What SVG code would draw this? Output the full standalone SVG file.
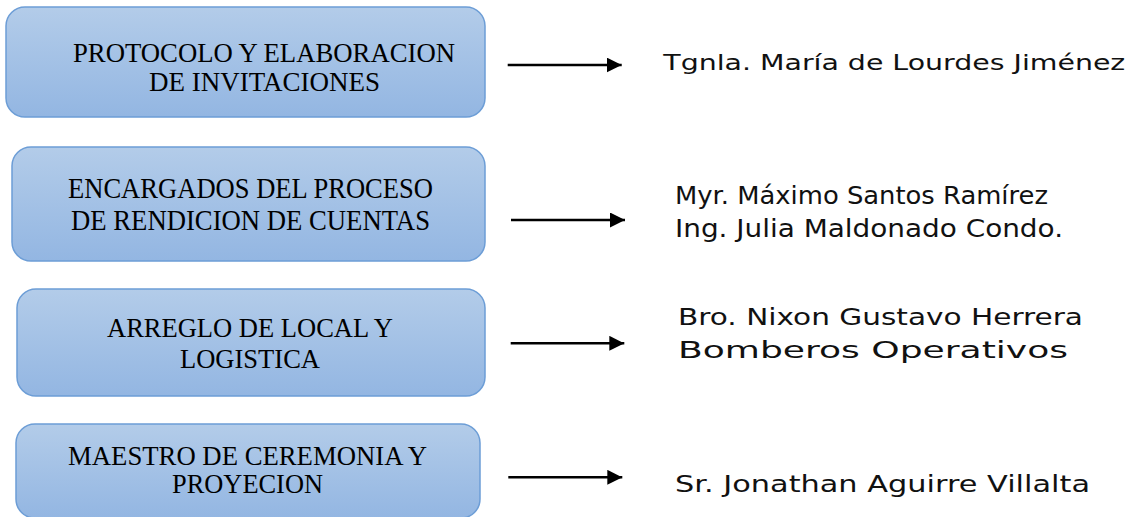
<svg xmlns="http://www.w3.org/2000/svg" width="1132" height="517" viewBox="0 0 1132 517">
<defs>
<linearGradient id="g" x1="0" y1="0" x2="0" y2="1">
<stop offset="0" stop-color="#b3cce9"/>
<stop offset="1" stop-color="#93b6e2"/>
</linearGradient>
<marker id="ah" markerUnits="userSpaceOnUse" markerWidth="15" markerHeight="15" refX="15" refY="7.5" orient="auto">
<path d="M0,0 L15,7.5 L0,15 Z" fill="#000"/>
</marker>
<style>
.box{fill:url(#g);stroke:#6c9dd6;stroke-width:1.5}
.lt{font-family:"Liberation Serif","Times New Roman",serif;fill:#000}
.rt{font-family:"DejaVu Sans","Liberation Sans",sans-serif;fill:#111}
.arr{stroke:#000;stroke-width:2.5;fill:none;marker-end:url(#ah)}
</style>
</defs>
<rect width="1132" height="517" fill="#fff"/>
<g id="n1">
<rect class="box" x="6" y="7" width="479" height="110" rx="19"/>
<text class="lt" font-size="28" x="73" y="61.7" textLength="382" lengthAdjust="spacingAndGlyphs">PROTOCOLO Y ELABORACION</text>
<text class="lt" font-size="28" x="149" y="90.7" textLength="231" lengthAdjust="spacingAndGlyphs">DE INVITACIONES</text>
</g>
<g id="n2">
<rect class="box" x="12" y="147" width="473" height="114" rx="19"/>
<text class="lt" font-size="28.7" x="68" y="198.3" textLength="365" lengthAdjust="spacingAndGlyphs">ENCARGADOS DEL PROCESO</text>
<text class="lt" font-size="28.7" x="71" y="230" textLength="359" lengthAdjust="spacingAndGlyphs">DE RENDICION DE CUENTAS</text>
</g>
<g id="n3">
<rect class="box" x="17" y="289" width="468" height="107" rx="19"/>
<text class="lt" font-size="27.7" x="107" y="336.7" textLength="286" lengthAdjust="spacingAndGlyphs">ARREGLO DE LOCAL Y</text>
<text class="lt" font-size="27.7" x="180" y="368.3" textLength="140" lengthAdjust="spacingAndGlyphs">LOGISTICA</text>
</g>
<g id="n4">
<rect class="box" x="16" y="424" width="464" height="94" rx="19"/>
<text class="lt" font-size="27" x="68" y="465" textLength="359" lengthAdjust="spacingAndGlyphs">MAESTRO DE CEREMONIA Y</text>
<text class="lt" font-size="27" x="172" y="493.3" textLength="151" lengthAdjust="spacingAndGlyphs">PROYECION</text>
</g>
<g id="connectors">
<line class="arr" x1="507.7" y1="65" x2="621.7" y2="65"/>
<line class="arr" x1="511" y1="220" x2="625" y2="220"/>
<line class="arr" x1="510.7" y1="343.3" x2="624.3" y2="343.3"/>
<line class="arr" x1="508.3" y1="477.3" x2="622.3" y2="477.3"/>
</g>
<g id="r1">
<text class="rt" font-size="20.6" x="663.3" y="70" textLength="462" lengthAdjust="spacingAndGlyphs">Tgnla. María de Lourdes Jiménez</text>
</g>
<g id="r2">
<text class="rt" font-size="25.6" x="675" y="204.3" textLength="373" lengthAdjust="spacingAndGlyphs">Myr. Máximo Santos Ramírez</text>
<text class="rt" font-size="25.6" x="675" y="236.7" textLength="388" lengthAdjust="spacingAndGlyphs">Ing. Julia Maldonado Condo.</text>
</g>
<g id="r3">
<text class="rt" font-size="23" x="678" y="325" textLength="405" lengthAdjust="spacingAndGlyphs">Bro. Nixon Gustavo Herrera</text>
<text class="rt" font-size="23" x="678" y="358.3" textLength="390" lengthAdjust="spacingAndGlyphs">Bomberos Operativos</text>
</g>
<g id="r4">
<text class="rt" font-size="23" x="675" y="491.7" textLength="415" lengthAdjust="spacingAndGlyphs">Sr. Jonathan Aguirre Villalta</text>
</g>
</svg>
